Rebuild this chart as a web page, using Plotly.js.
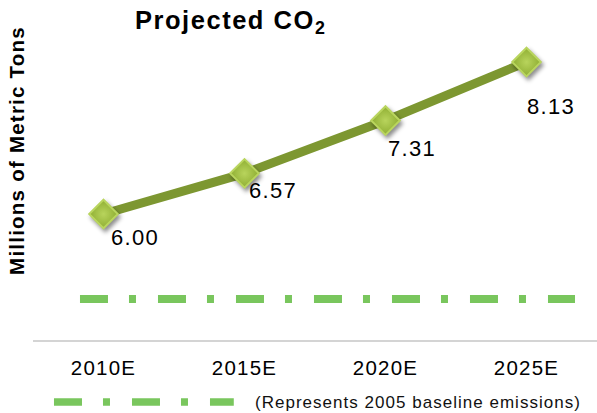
<!DOCTYPE html>
<html>
<head>
<meta charset="utf-8">
<script src="https://cdn.plot.ly/plotly-3.0.1.min.js"></script>
<style>
  html, body { margin: 0; padding: 0; background: #fff; }
  #chart { width: 597px; height: 413px; }
  /* slightly widened lettering (also applied to Plotly's measuring svg) */
  svg text { letter-spacing: 0.06em; }
  /* soft drop shadow under the diamond markers */
  #chart .scatterlayer .points path { filter: drop-shadow(2px 3px 2px rgba(0,0,0,0.45)); }
</style>
</head>
<body>
<div id="chart"></div>
<script>
// Projected CO2 emissions, millions of metric tons
const years = ['2010E', '2015E', '2020E', '2025E'];
const co2 = [6.00, 6.57, 7.31, 8.13];
const baseline2005 = 4.81;
const baselineNote = '(Represents 2005 baseline emissions)';

// label offsets (px) relative to each point
const labelShift = [[31, -23], [28, -17], [26, -28], [24, -44]];

const FONT = 'Liberation Sans, Arial, sans-serif';
const dashPattern = '28px,21px,7px,22px';
const baseColor = '#79c65d';

const trace = {
  type: 'scatter',
  mode: 'lines+markers',
  x: years,
  y: co2,
  line: { color: '#7d9731', width: 9 },
  marker: {
    symbol: 'diamond',
    size: 22,
    color: '#8fae33',
    gradient: { type: 'radial', color: '#b8d45c' },
    line: { color: '#b9d55e', width: 2 }
  },
  hoverinfo: 'skip',
  showlegend: false
};

const annotations = co2.map((v, i) => ({
  x: years[i], y: v, xref: 'x', yref: 'y',
  text: v.toFixed(2),
  showarrow: false,
  xanchor: 'center', yanchor: 'middle',
  xshift: labelShift[i][0], yshift: labelShift[i][1],
  font: { family: FONT, size: 22, color: '#000' }
}));

annotations.push({
  xref: 'paper', yref: 'paper', x: 0.177, y: 0.935,
  xanchor: 'left', yanchor: 'middle', showarrow: false,
  text: 'Projected CO<sub>2</sub>',
  font: { family: FONT, size: 25.5, color: '#000', weight: 'bold' }
});
annotations.push({
  xref: 'paper', yref: 'paper', x: -0.0284, y: 0.559,
  xanchor: 'center', yanchor: 'middle', showarrow: false,
  textangle: -90,
  text: 'Millions of Metric Tons',
  font: { family: FONT, size: 20.5, color: '#000', weight: 'bold' }
});
annotations.push({
  xref: 'paper', yref: 'paper', x: 0.390, y: -0.1824,
  xanchor: 'left', yanchor: 'middle', showarrow: false,
  text: baselineNote,
  font: { family: FONT, size: 17, color: '#111' }
});

const shapes = [
  { type: 'line', xref: 'paper', yref: 'y', x0: 0.0833, x1: 0.961,
    y0: baseline2005, y1: baseline2005, layer: 'below',
    line: { color: baseColor, width: 8, dash: dashPattern } },
  { type: 'line', xref: 'paper', yref: 'paper', x0: 0.0372, x1: 0.356,
    y0: -0.1824, y1: -0.1824,
    line: { color: baseColor, width: 7.5, dash: dashPattern } }
];

const layout = {
  width: 597, height: 413,
  margin: { l: 33, r: 0, t: 0, b: 73 },
  paper_bgcolor: '#fff', plot_bgcolor: '#fff',
  font: { family: FONT, color: '#000' },
  xaxis: {
    type: 'category', range: [-0.5, 3.5],
    showline: true, linecolor: '#d4d4d4', linewidth: 2,
    showgrid: false, zeroline: false, ticks: '',
    ticklabelstandoff: 8,
    tickfont: { family: FONT, size: 20.5, color: '#000' },
    fixedrange: true
  },
  yaxis: {
    range: [4.234, 9.0], visible: false, showgrid: false, zeroline: false,
    fixedrange: true
  },
  annotations: annotations,
  shapes: shapes,
  showlegend: false
};

Plotly.newPlot('chart', [trace], layout, { displayModeBar: false, staticPlot: true });
</script>
</body>
</html>
